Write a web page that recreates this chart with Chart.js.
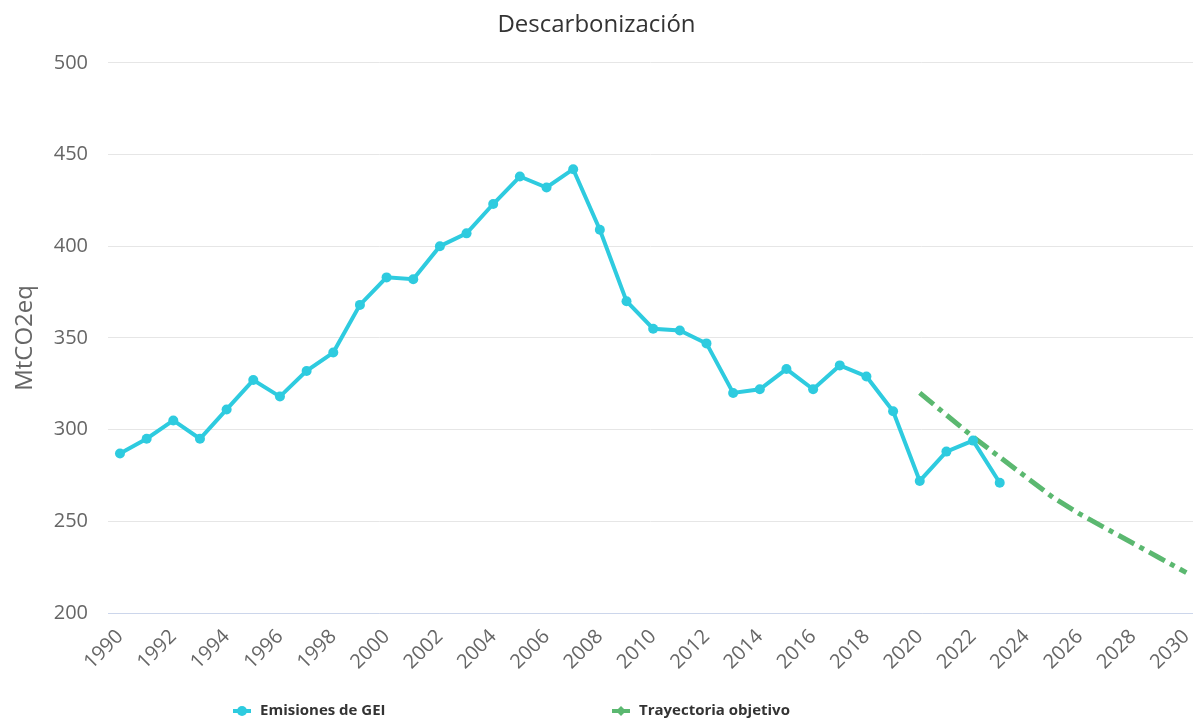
<!DOCTYPE html>
<html lang="es">
<head>
<meta charset="utf-8">
<title>Descarbonización</title>
<script src="https://cdn.jsdelivr.net/npm/chart.js@4.4.1/dist/chart.umd.min.js"></script>
<style>
  html, body { margin: 0; padding: 0; background: #fff; }
  #wrap { width: 1193px; height: 720px; position: relative; }
</style>
</head>
<body>
<div id="wrap"><canvas id="chart"></canvas></div>
<script>
// =======================================================
// Data
// =======================================================
const emisionesYears = [
  1990, 1991, 1992, 1993, 1994, 1995, 1996, 1997, 1998, 1999,
  2000, 2001, 2002, 2003, 2004, 2005, 2006, 2007, 2008, 2009,
  2010, 2011, 2012, 2013, 2014, 2015, 2016, 2017, 2018, 2019,
  2020, 2021, 2022, 2023
]
const emisionesValues = [
  287, 295, 305, 295, 311, 327, 318, 332, 342, 368,
  383, 382, 400, 407, 423, 438, 432, 442, 409, 370,
  355, 354, 347, 320, 322, 333, 322, 335, 329, 310,
  272, 288, 294, 271
]

const objetivoYears = [2020, 2021, 2022, 2023, 2024, 2025, 2026, 2027, 2028, 2029, 2030]
const objetivoValues = [320, 308, 296, 285, 274, 263, 254, 246, 238, 230, 222]

const xTickYears = [
  1990, 1992, 1994, 1996, 1998, 2000, 2002, 2004, 2006, 2008, 2010,
  2012, 2014, 2016, 2018, 2020, 2022, 2024, 2026, 2028, 2030
]

const COLOR_EMISIONES = '#2ecbdf'
const COLOR_OBJETIVO = '#5bb870'
const FONT = "'Open Sans', 'DejaVu Sans', sans-serif"

// =======================================================
// Helpers
// =======================================================
function toPoints(xs, ys) {
  return xs.map((x, i) => ({ x, y: ys[i] }))
}

// legend at the bottom, Highcharts look (line + marker)
const bottomLegend = {
  id: 'bottomLegend',
  afterDraw(chart) {
    const ctx = chart.ctx
    const y = 711
    const starts = [233, 612]
    ctx.save()
    chart.data.datasets.forEach((ds, i) => {
      const x = starts[i]
      ctx.strokeStyle = ds.borderColor
      ctx.lineWidth = 4
      ctx.beginPath()
      ctx.moveTo(x, y)
      ctx.lineTo(x + 18, y)
      ctx.stroke()
      ctx.fillStyle = ds.borderColor
      ctx.beginPath()
      if (i === 0) {
        ctx.arc(x + 9, y, 5, 0, Math.PI * 2)
      } else {
        ctx.moveTo(x + 9, y - 5)
        ctx.lineTo(x + 14, y)
        ctx.lineTo(x + 9, y + 5)
        ctx.lineTo(x + 4, y)
        ctx.closePath()
      }
      ctx.fill()
      ctx.fillStyle = '#333333'
      ctx.font = 'bold 15px ' + FONT
      ctx.textBaseline = 'middle'
      ctx.textAlign = 'left'
      ctx.fillText(ds.label, x + 27, y)
    })
    ctx.restore()
  },
}

// =======================================================
// Chart
// =======================================================
new Chart(document.getElementById('chart').getContext('2d'), {
  type: 'line',
  data: {
    datasets: [
      {
        label: 'Emisiones de GEI',
        data: toPoints(emisionesYears, emisionesValues),
        borderColor: COLOR_EMISIONES,
        backgroundColor: COLOR_EMISIONES,
        borderWidth: 4,
        pointRadius: 5,
        pointBorderWidth: 0,
        pointBackgroundColor: COLOR_EMISIONES,
        tension: 0,
        clip: false,
      },
      {
        label: 'Trayectoria objetivo',
        data: toPoints(objetivoYears, objetivoValues),
        borderColor: COLOR_OBJETIVO,
        backgroundColor: COLOR_OBJETIVO,
        borderWidth: 5,
        borderDash: [18, 6, 5, 6],
        pointRadius: 0,
        tension: 0,
        clip: false,
      },
    ],
  },
  options: {
    responsive: true,
    maintainAspectRatio: false,
    animation: false,
    layout: { autoPadding: false, padding: { left: 0, right: 0, top: 0, bottom: 32 } },
    plugins: {
      legend: { display: false },
      tooltip: { enabled: false },
      title: {
        display: true,
        text: 'Descarbonización',
        color: '#333333',
        font: { family: FONT, size: 24, weight: 'normal' },
        padding: { top: 11, bottom: 23 },
      },
    },
    scales: {
      x: {
        type: 'linear',
        min: 1989.55,
        max: 2030.25,
        afterBuildTicks: (axis) => {
          axis.ticks = xTickYears.map((v) => ({ value: v }))
        },
        afterFit: (axis) => {
          axis.paddingRight = 0
          axis.height = 75
        },
        ticks: {
          autoSkip: false,
          minRotation: 45,
          maxRotation: 45,
          padding: 12,
          color: '#666666',
          font: { family: FONT, size: 20 },
          callback: (v) => String(v),
        },
        grid: { display: false, drawTicks: false },
        border: { display: true, color: '#ccd6eb', width: 1 },
      },
      y: {
        min: 200,
        max: 500,
        afterFit: (axis) => {
          axis.width = 108
        },
        ticks: {
          stepSize: 50,
          padding: 20,
          color: '#666666',
          font: { family: FONT, size: 20 },
        },
        grid: { color: '#e6e6e6', drawTicks: false },
        border: { display: false },
        title: {
          display: true,
          text: 'MtCO2eq',
          color: '#666666',
          font: { family: FONT, size: 24 },
          padding: { top: 11, bottom: 10 },
        },
      },
    },
  },
  plugins: [bottomLegend],
})
</script>
</body>
</html>
